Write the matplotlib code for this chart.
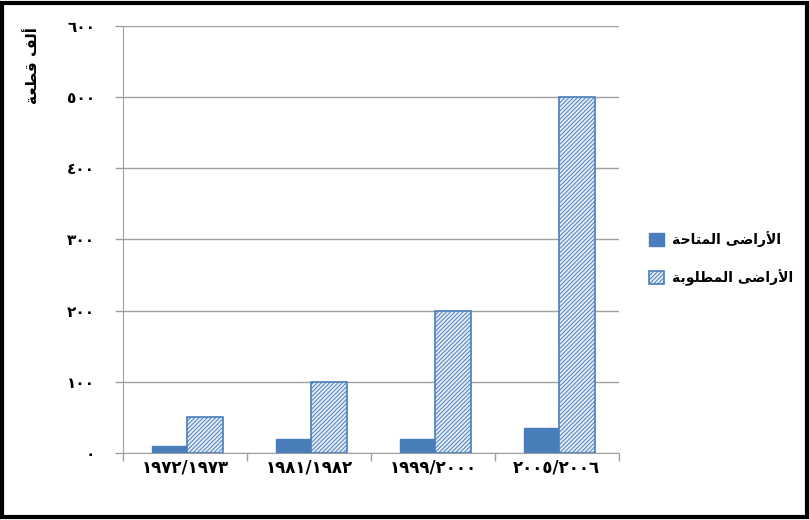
import numpy as np
import matplotlib
matplotlib.use("Agg")
import matplotlib.pyplot as plt
from matplotlib.patches import Rectangle

# joining forms (isolated, final, initial, medial) for the letters used below
FORMS = {
    'ا': (0xFE8D, 0xFE8E, None, None),
    'أ': (0xFE83, 0xFE84, None, None),
    'ر': (0xFEAD, 0xFEAE, None, None),
    'ى': (0xFEEF, 0xFEF0, None, None),
    'ة': (0xFE93, 0xFE94, None, None),
    'و': (0xFEED, 0xFEEE, None, None),
    'ﻷ': (0xFEF7, 0xFEF8, None, None),
    'ل': (0xFEDD, 0xFEDE, 0xFEDF, 0xFEE0),
    'ض': (0xFEBD, 0xFEBE, 0xFEBF, 0xFEC0),
    'م': (0xFEE1, 0xFEE2, 0xFEE3, 0xFEE4),
    'ت': (0xFE95, 0xFE96, 0xFE97, 0xFE98),
    'ح': (0xFEA1, 0xFEA2, 0xFEA3, 0xFEA4),
    'ط': (0xFEC1, 0xFEC2, 0xFEC3, 0xFEC4),
    'ب': (0xFE8F, 0xFE90, 0xFE91, 0xFE92),
    'ف': (0xFED1, 0xFED2, 0xFED3, 0xFED4),
    'ق': (0xFED5, 0xFED6, 0xFED7, 0xFED8),
    'ع': (0xFEC9, 0xFECA, 0xFECB, 0xFECC),
}


def arabic(text):
    chars = list(text.replace('لأ', 'ﻷ'))
    out = []
    for i, c in enumerate(chars):
        if c not in FORMS:
            out.append(c)
            continue
        prev = chars[i - 1] if i > 0 else None
        nxt = chars[i + 1] if i + 1 < len(chars) else None
        joins_prev = prev in FORMS and FORMS[prev][2] is not None
        joins_next = FORMS[c][2] is not None and nxt in FORMS
        iso, fin, ini, med = FORMS[c]
        if joins_prev and joins_next:
            code = med
        elif joins_prev:
            code = fin
        elif joins_next:
            code = ini
        else:
            code = iso
        out.append(chr(code))
    return ''.join(reversed(out))


periods = ['١٩٧٢/١٩٧٣', '١٩٨١/١٩٨٢', '١٩٩٩/٢٠٠٠', '٢٠٠٥/٢٠٠٦']
available = [10, 20, 20, 35]
required = [50, 100, 200, 500]
yticks = [0, 100, 200, 300, 400, 500, 600]
ytick_labels = ['٠', '١٠٠', '٢٠٠', '٣٠٠', '٤٠٠', '٥٠٠', '٦٠٠']
label_available = 'الأراضى المتاحة'
label_required = 'الأراضى المطلوبة'
y_title = 'ألف قطعة'

blue = '#4A7EBB'
grey = '#A0A0A0'
plt.rcParams['font.family'] = ['DejaVu Sans']
plt.rcParams['hatch.linewidth'] = 0.7

fig = plt.figure(figsize=(8.09, 5.2), dpi=100)
ax = fig.add_axes([0.152, 0.129, 0.613, 0.821])

x = np.arange(len(periods)) + 0.02
w = 0.286
ax.bar(x - w / 2, available, w, color=blue, edgecolor=blue, linewidth=1,
       label=arabic(label_available), zorder=3)
ax.bar(x + w / 2, required, w, facecolor='#e4ecf6', edgecolor=blue, hatch='////////',
       linewidth=1.2, label=arabic(label_required), zorder=3)

ax.set_xlim(-0.5, len(periods) - 0.5)
ax.set_ylim(0, 600)
ax.set_yticks(yticks)
ax.set_yticklabels(ytick_labels, fontsize=11, fontweight='bold')
ax.set_xticks(np.arange(len(periods)))
ax.set_xticklabels(periods, fontsize=12, fontweight='bold')
ax.set_xticks(np.arange(len(periods) + 1) - 0.5, minor=True)
ax.tick_params(axis='x', which='major', length=0, pad=4)
ax.tick_params(axis='x', which='minor', length=6, color=grey, width=1)
ax.tick_params(axis='y', length=6, color=grey, width=1, pad=14)

ax.grid(axis='y', color=grey, linewidth=1, zorder=0)
for side in ['top', 'right']:
    ax.spines[side].set_visible(False)
for side in ['left', 'bottom']:
    ax.spines[side].set_color(grey)

ax.legend(loc='center left', bbox_to_anchor=(1.035, 0.455), frameon=False,
          prop={'size': 10, 'weight': 'bold'}, labelspacing=1.6,
          handlelength=1.1, handleheight=1.1, handletextpad=0.6)

fig.text(0.04, 0.875, arabic(y_title), rotation=90, ha='center', va='center',
         fontsize=11, fontweight='bold')

fig.patches.append(Rectangle((0.003, 0.006), 0.994, 0.988, transform=fig.transFigure,
                             fill=False, edgecolor='black', linewidth=3))

fig.savefig('out.png', dpi=100)
